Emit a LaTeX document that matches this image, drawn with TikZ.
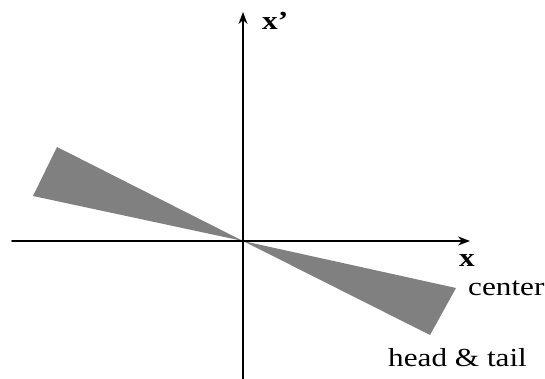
\documentclass[tikz,border=0pt]{standalone}
\usepackage{fontspec}
\setmainfont{Liberation Serif}
\usetikzlibrary{arrows.meta}
\begin{document}
\begin{tikzpicture}[x=1pt, y=-1pt, line join=round, line cap=round, >={Stealth[length=12pt,width=9pt]}]
\tikzset{every node/.style={font=\fontsize{26}{30}\selectfont, xscale=1.2}, wedge/.style={fill=gray, draw=none}}
\useasboundingbox (0,0) rectangle (545,379);
\coordinate (O) at (243,241);
\coordinate (xl) at (12,241);
\coordinate (xr) at (470,241);
\coordinate (yb) at (243,379);
\coordinate (yt) at (243,12);
% the two wedges
\fill[wedge] (O)--(57,147)--(33,196)--cycle;
\fill[wedge] (O)--(456,288)--(430,335)--cycle;
% axes
\draw[line width=1.8pt,->] (xl)--(xr);
\draw[line width=1.8pt,->] (yb)--(yt);
\node[anchor=base] (xlab) at (467,266) {\bfseries x};
\node[anchor=base west] (ylab) at (258,30) {\bfseries x'};
\node[anchor=base west] (clab) at (464,295) {center};
\node[anchor=base west] (hlab) at (384,366) {head \& tail};
\end{tikzpicture}
\end{document}
